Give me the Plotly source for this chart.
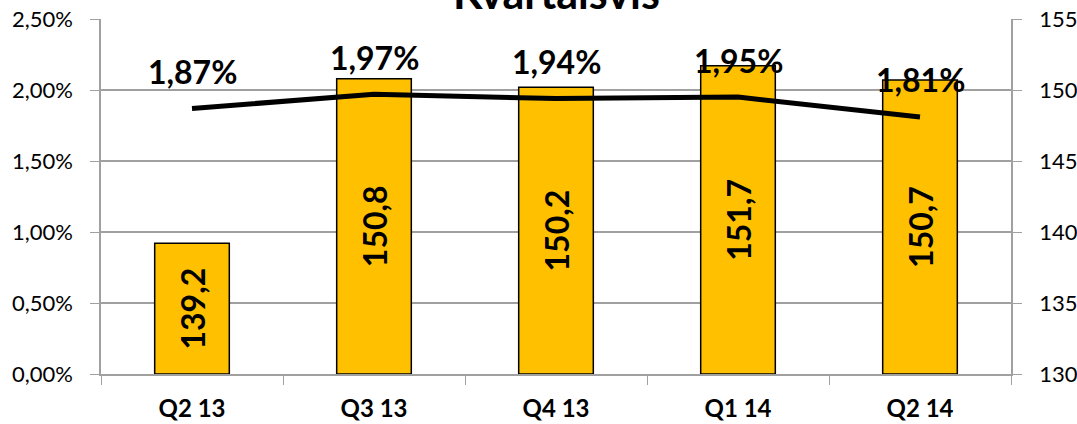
import plotly.graph_objects as go

quarters = ["Q2 13", "Q3 13", "Q4 13", "Q1 14", "Q2 14"]
volume = [139.2, 150.8, 150.2, 151.7, 150.7]
rate = [0.0187, 0.0197, 0.0194, 0.0195, 0.0181]

FONT = "Lato"
AXIS_MIN = 130

fig = go.Figure()

# bars on the primary axis (shown on the right) so the line sits on top
fig.add_trace(go.Bar(
    x=quarters, y=[v - AXIS_MIN for v in volume], base=AXIS_MIN, yaxis="y",
    marker=dict(color="#FFC000", line=dict(color="black", width=1.5)),
    width=0.41,
    text=["{:.1f}".format(v).replace(".", ",") for v in volume],
    textposition="inside", insidetextanchor="middle",
    textangle=-90, textfont=dict(family=FONT, size=32, color="black", weight="bold"),
    constraintext="none",
))

fig.add_trace(go.Scatter(
    x=quarters, y=rate, yaxis="y2", mode="lines",
    line=dict(color="black", width=5),
))

for q, r in zip(quarters, rate):
    fig.add_annotation(
        x=q, y=r, yref="y2", text="{:.2f}%".format(r * 100).replace(".", ","),
        showarrow=False, yshift=37,
        font=dict(family=FONT, size=32, color="black", weight="bold"),
    )

fig.add_annotation(
    x=0.5, y=1, xref="paper", yref="paper", text="Kvartalsvis",
    showarrow=False, yanchor="middle", yshift=27,
    font=dict(family=FONT, size=43, color="black", weight="bold"),
)

fig.update_layout(
    width=1077, height=424,
    margin=dict(l=101, r=66, t=19, b=50),
    paper_bgcolor="white", plot_bgcolor="white",
    showlegend=False,
    xaxis=dict(
        tickson="boundaries", ticks="outside", ticklen=9, tickcolor="#a0a0a0",
        showline=True, linecolor="#a0a0a0", linewidth=1.5,
        showgrid=False, automargin=False,
        tickfont=dict(family=FONT, size=24, color="black", weight="bold"),
        ticklabelstandoff=12,
    ),
    yaxis=dict(
        side="right", range=[AXIS_MIN, 155], dtick=5,
        showgrid=True, gridcolor="#a0a0a0", gridwidth=1.5,
        ticks="outside", ticklen=9, tickcolor="#a0a0a0",
        showline=True, linecolor="#a0a0a0", linewidth=1.5,
        tickfont=dict(family=FONT, size=22, color="black"),
        ticklabelstandoff=13, automargin=False,
        zeroline=False,
    ),
    yaxis2=dict(
        side="left", overlaying="y", range=[0, 0.025], dtick=0.005,
        tickformat=".2%", showgrid=False,
        ticks="outside", ticklen=9, tickcolor="#a0a0a0",
        showline=True, linecolor="#a0a0a0", linewidth=1.5,
        tickfont=dict(family=FONT, size=22, color="black"),
        ticklabelstandoff=13, automargin=False,
        zeroline=False,
    ),
    separators=", ",
)

fig.write_html("out.html", config={"displayModeBar": False},
               post_script="document.body.style.margin='0';")
